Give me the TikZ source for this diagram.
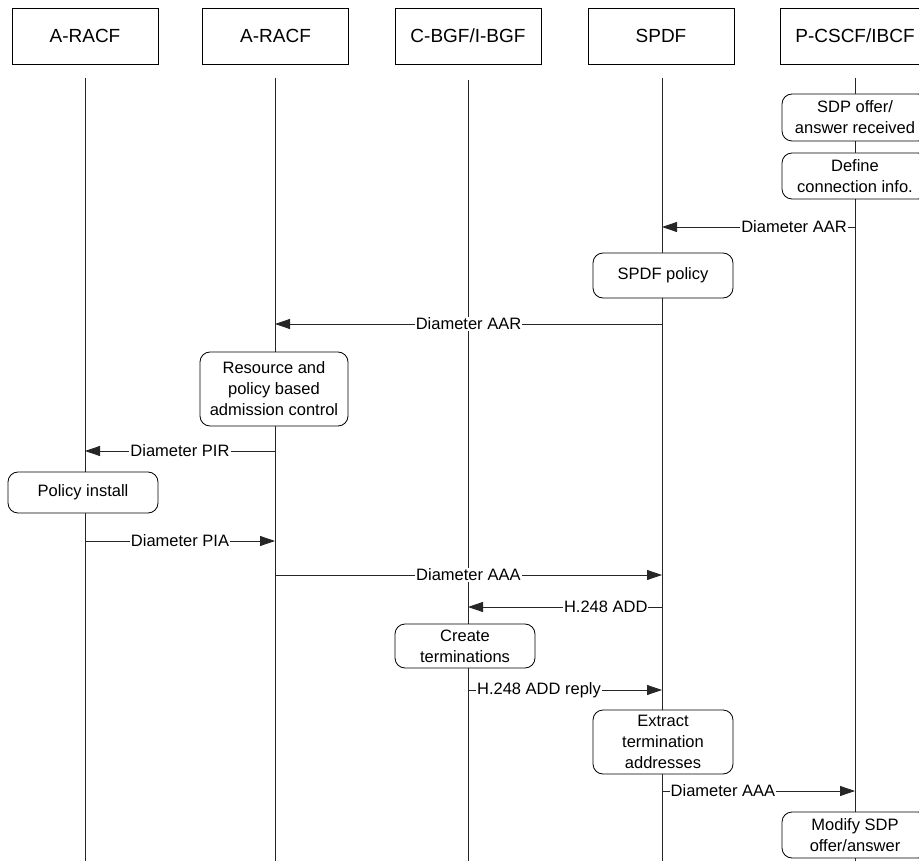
\documentclass[tikz,border=0pt]{standalone}
\usepackage{fontspec}
\setmainfont{Liberation Sans}
\usetikzlibrary{arrows.meta}
\begin{document}
\begin{tikzpicture}[x=1pt,y=-1pt,
  head/.style={draw, line width=0.8pt, minimum width=146pt, minimum height=56pt, inner sep=0pt, fill=white, font=\fontsize{19}{22}\selectfont},
  proc/.style={draw, line width=0.8pt, rounded corners=10pt, fill=white, align=center, inner sep=0pt, font=\fontsize{16.5}{21}\selectfont},
  life/.style={line width=0.8pt, draw=black!85},
  msg/.style={line width=0.8pt, draw=black!85, -{Triangle[length=15pt,width=10pt]}},
  lbl/.style={fill=white, inner sep=1pt, font=\fontsize{16.5}{19}\selectfont}
]
\useasboundingbox (0,0) rectangle (919,861);
% lifelines
\coordinate (t1) at (85,78);  \coordinate (b1) at (85,861);
\coordinate (t2) at (275,78); \coordinate (b2) at (275,861);
\coordinate (t3) at (468,80); \coordinate (b3) at (468,861);
\coordinate (t4) at (662,78); \coordinate (b4) at (662,861);
\coordinate (t5) at (855,78); \coordinate (b5) at (855,861);
\foreach \i in {1,...,5} {\draw[life] (t\i) -- (b\i);}
% headers
\node[head] (h1) at (85,36) {A-RACF};
\node[head] (h2) at (275.5,36) {A-RACF};
\node[head] (h3) at (468,36) {C-BGF/I-BGF};
\node[head] (h4) at (661,36) {SPDF};
\node[head, minimum width=150pt] (h5) at (855,36) {P-CSCF/IBCF};
% process boxes
\node[proc, minimum width=146pt, minimum height=47pt] (p1) at (855,117.5) {SDP offer/\\answer received};
\node[proc, minimum width=146pt, minimum height=46pt] (p2) at (855,176) {Define\\connection info.};
\draw[msg] (t5 |- 0,227) -- node[lbl,pos=.316]{Diameter AAR} (t4 |- 0,227);
\node[proc, minimum width=140pt, minimum height=45pt] (p3) at (663,275.5) {SPDF policy};
\draw[msg] (t4 |- 0,324) -- node[lbl,pos=.5]{Diameter AAR} (t2 |- 0,324);
\node[proc, minimum width=148pt, minimum height=74pt] (p4) at (274,389) {Resource and\\policy based\\admission control};
\draw[msg] (t2 |- 0,451) -- node[lbl,pos=.5]{Diameter PIR} (t1 |- 0,451);
\node[proc, minimum width=150pt, minimum height=41pt] (p5) at (83,492.5) {Policy install};
\draw[msg] (t1 |- 0,541) -- node[lbl,pos=.5]{Diameter PIA} (t2 |- 0,541);
\draw[msg] (t2 |- 0,575) -- node[lbl,pos=.5]{Diameter AAA} (t4 |- 0,575);
\draw[msg] (t4 |- 0,607) -- node[lbl,pos=.29]{H.248 ADD} (t3 |- 0,607);
\node[proc, minimum width=140pt, minimum height=44pt] (p6) at (465,646) {Create\\terminations};
\draw[msg] (t3 |- 0,690) -- node[lbl,pos=.366]{H.248 ADD reply} (t4 |- 0,690);
\node[proc, minimum width=140pt, minimum height=64pt] (p7) at (663,742) {Extract\\termination\\addresses};
\draw[msg] (t4 |- 0,791) -- node[lbl,pos=.316]{Diameter AAA} (t5 |- 0,791);
\node[proc, minimum width=146pt, minimum height=46pt] (p8) at (855,835) {Modify SDP\\offer/answer};
\end{tikzpicture}
\end{document}
